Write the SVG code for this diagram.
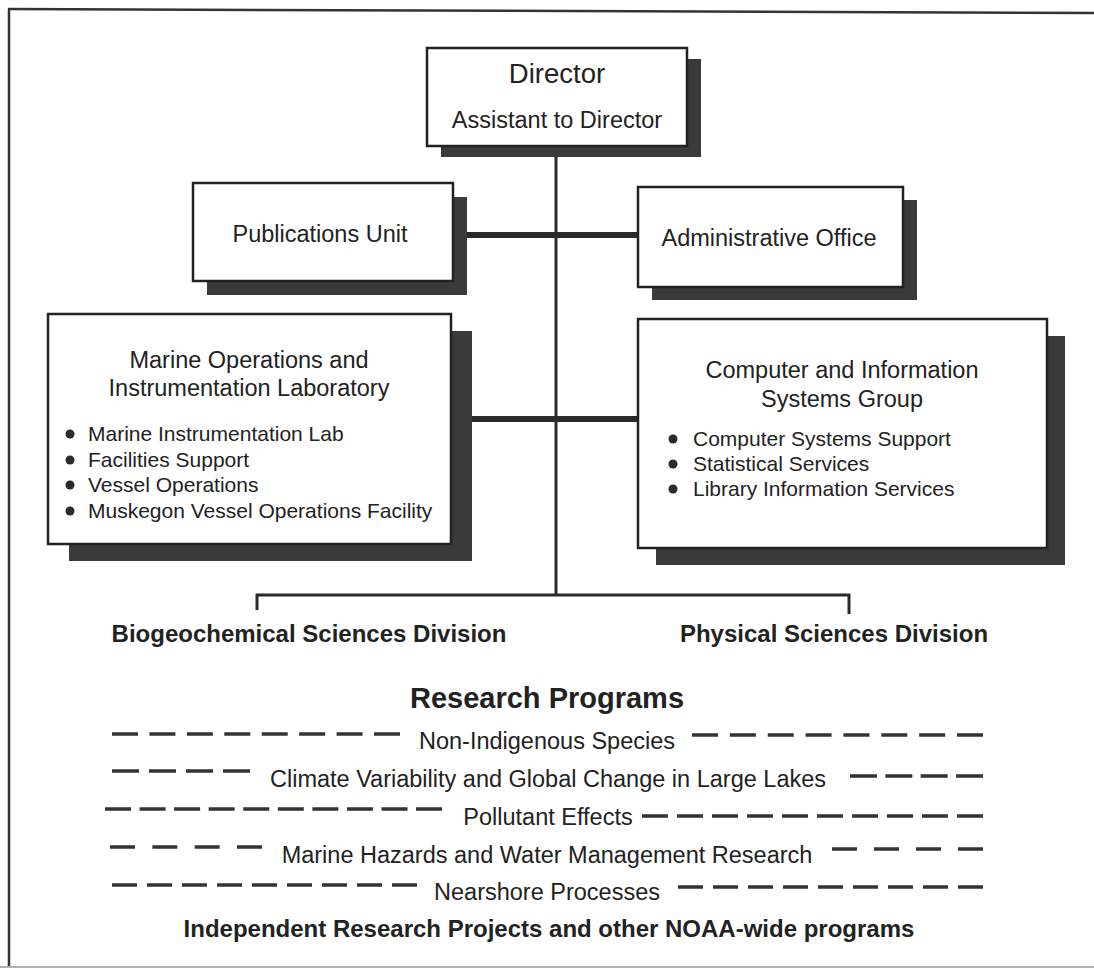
<svg xmlns="http://www.w3.org/2000/svg" width="1094" height="969" viewBox="0 0 1094 969">
<style>
text{font-family:"Liberation Sans",Arial,Helvetica,sans-serif;fill:#222;}
.t{font-size:23.5px;text-anchor:middle;}
.big{font-size:27.5px;text-anchor:middle;}
.b{font-size:21px;}
.bold{font-size:24px;font-weight:bold;text-anchor:middle;}
.head{font-size:29px;font-weight:bold;text-anchor:middle;}
.box{fill:#fff;stroke:#222;stroke-width:2.5;}
.shadow{fill:#3a3a3a;}
.dot{fill:#2a2a2a;}
.ln{stroke:#2a2a2a;fill:none;}
.dash{stroke:#333;stroke-width:3.5;fill:none;}
.frame{stroke:#333;stroke-width:2.5;fill:none;}
</style>
<rect width="1094" height="969" fill="#fff"/>
<g id="frame">
<path class="frame" d="M8,9 L1094,13"/>
<path class="frame" d="M9,9 L9,967"/>
<path d="M0,967 L1094,967" stroke="#b0b0b0" stroke-width="2" fill="none"/>
</g>
<g id="connectors">
<path class="ln" stroke-width="3" d="M556,146 V596"/>
<path class="ln" stroke-width="6" d="M453,235 H638"/>
<path class="ln" stroke-width="6" d="M451,419 H638"/>
<path class="ln" stroke-width="3" d="M257,610 V595 H849 V614"/>
</g>
<g id="director">
<rect class="shadow" x="441" y="59" width="260" height="98"/>
<rect class="box" x="427" y="48" width="260" height="98"/>
<text class="big" x="557" y="83">Director</text>
<text class="t" x="557" y="128">Assistant to Director</text>
</g>
<g id="publications">
<rect class="shadow" x="207" y="197" width="260" height="98"/>
<rect class="box" x="193" y="183" width="260" height="98"/>
<text class="t" x="320" y="242">Publications Unit</text>
</g>
<g id="admin">
<rect class="shadow" x="652" y="200" width="265" height="100"/>
<rect class="box" x="638" y="187" width="265" height="100"/>
<text class="t" x="769" y="246">Administrative Office</text>
</g>
<g id="marine">
<rect class="shadow" x="69" y="331" width="403" height="230"/>
<rect class="box" x="48" y="314" width="403" height="230"/>
<text class="t" x="249" y="368">Marine Operations and</text>
<text class="t" x="249" y="396">Instrumentation Laboratory</text>
<circle class="dot" cx="70" cy="434" r="4.5"/>
<circle class="dot" cx="70" cy="460" r="4.5"/>
<circle class="dot" cx="70" cy="485" r="4.5"/>
<circle class="dot" cx="70" cy="511" r="4.5"/>
<text class="b" x="88" y="441">Marine Instrumentation Lab</text>
<text class="b" x="88" y="467">Facilities Support</text>
<text class="b" x="88" y="492">Vessel Operations</text>
<text class="b" x="88" y="518">Muskegon Vessel Operations Facility</text>
</g>
<g id="computer">
<rect class="shadow" x="656" y="336" width="409" height="229"/>
<rect class="box" x="638" y="319" width="409" height="229"/>
<text class="t" x="842" y="378">Computer and Information</text>
<text class="t" x="842" y="407">Systems Group</text>
<circle class="dot" cx="673" cy="439" r="4.5"/>
<circle class="dot" cx="673" cy="464" r="4.5"/>
<circle class="dot" cx="673" cy="489" r="4.5"/>
<text class="b" x="693" y="446">Computer Systems Support</text>
<text class="b" x="693" y="471">Statistical Services</text>
<text class="b" x="693" y="496">Library Information Services</text>
</g>
<g id="divisions">
<text class="bold" x="309" y="642">Biogeochemical Sciences Division</text>
<text class="bold" x="834" y="642">Physical Sciences Division</text>
</g>
<g id="programs">
<text class="head" x="547" y="708">Research Programs</text>
<path class="dash" d="M112,734 H400" stroke-dasharray="26 11.43"/>
<path class="dash" d="M692,735 H983" stroke-dasharray="26 11.86"/>
<text class="t" x="547" y="749">Non-Indigenous Species</text>
<path class="dash" d="M112,771 H250" stroke-dasharray="27 10"/>
<path class="dash" d="M850,776 H983" stroke-dasharray="27 8.33"/>
<text class="t" x="548" y="787">Climate Variability and Global Change in Large Lakes</text>
<path class="dash" d="M105,809 H442" stroke-dasharray="26 8.56"/>
<path class="dash" d="M642,816 H983" stroke-dasharray="26 9"/>
<text class="t" x="548" y="825">Pollutant Effects</text>
<path class="dash" d="M110,847 H262" stroke-dasharray="25 17.33"/>
<path class="dash" d="M832,849 H983" stroke-dasharray="25 17"/>
<text class="t" x="547" y="863">Marine Hazards and Water Management Research</text>
<path class="dash" d="M112,885 H417" stroke-dasharray="25 10"/>
<path class="dash" d="M678,887 H983" stroke-dasharray="25 10"/>
<text class="t" x="547" y="900">Nearshore Processes</text>
<text class="bold" x="549" y="937">Independent Research Projects and other NOAA-wide programs</text>
</g>
</svg>
